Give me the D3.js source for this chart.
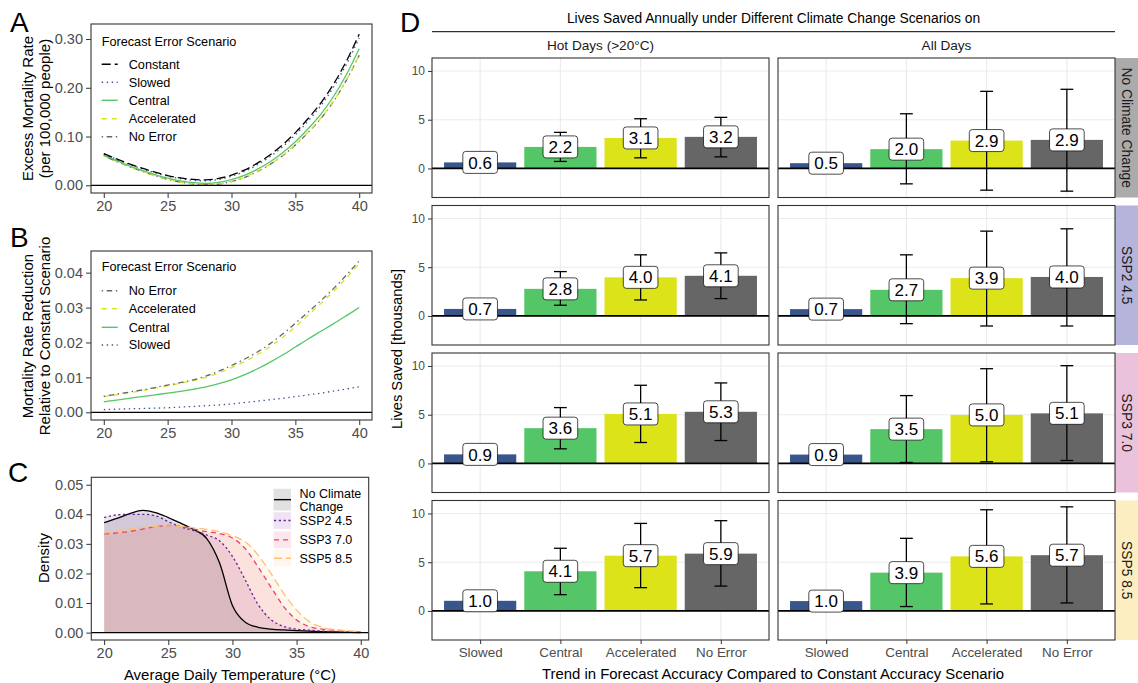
<!DOCTYPE html>
<html lang="en">
<head>
<meta charset="utf-8">
<title>Forecast accuracy and heat mortality</title>
<script src="https://cdn.jsdelivr.net/npm/d3@7"></script>
<style>
  body { margin: 0; background: #fff; }
  svg { display: block; font-family: "Liberation Sans", Arial, Helvetica, sans-serif; }
</style>
</head>
<body>
<script>
var W = 1138, H = 683;

// ---------------- data: panels A and B (by average daily temperature)
var temps = [20, 21, 22, 23, 24, 25, 26, 27, 28, 29, 30, 31, 32, 33, 34, 35, 36, 37, 38, 39, 40];

// excess mortality rate (per 100,000 people)
var rateConstant    = [.0650, .0540, .0440, .0350, .0270, .0200, .0150, .0120, .0110, .0140, .0210, .0310, .0450, .0620, .0830, .1080, .1370, .1690, .2080, .2550, .3100];
var rateSlowed      = [.0642, .0531, .0430, .0339, .0258, .0187, .0135, .0103, .0091, .0119, .0186, .0282, .0418, .0584, .0790, .1035, .1320, .1635, .2019, .2483, .3027];
var rateCentral     = [.0620, .0505, .0400, .0305, .0220, .0145, .0090, .0054, .0037, .0058, .0117, .0203, .0326, .0477, .0666, .0893, .1160, .1458, .1826, .2273, .2800];
var rateAccelerated = [.0605, .0490, .0384, .0288, .0201, .0124, .0067, .0029, .0010, .0027, .0082, .0165, .0285, .0432, .0615, .0835, .1092, .1378, .1733, .2165, .2674];
var rateNoError     = [.0604, .0488, .0382, .0286, .0199, .0122, .0065, .0027, .0006, .0022, .0076, .0158, .0278, .0424, .0606, .0825, .1083, .1370, .1725, .2157, .2666];

// mortality rate reduction relative to constant scenario
var redNoError     = [.0046, .0052, .0058, .0064, .0071, .0078, .0085, .0093, .0104, .0118, .0134, .0152, .0172, .0196, .0224, .0255, .0287, .0320, .0355, .0393, .0434];
var redAccelerated = [.0045, .0050, .0056, .0062, .0069, .0076, .0083, .0091, .0100, .0113, .0128, .0145, .0165, .0188, .0215, .0245, .0278, .0312, .0347, .0385, .0426];
var redCentral     = [.0030, .0035, .0040, .0045, .0050, .0055, .0060, .0066, .0073, .0082, .0093, .0107, .0124, .0143, .0164, .0187, .0210, .0232, .0254, .0277, .0300];
var redSlowed      = [.0008, .0009, .0010, .0011, .0012, .0013, .0015, .0017, .0019, .0021, .0024, .0028, .0032, .0036, .0040, .0045, .0050, .0055, .0061, .0067, .0073];

// ---------------- data: panel C (density of average daily temperature)
var densNoCC = [.0372, .0386, .0402, .0413, .0406, .0389, .0369, .0348, .0318, .0235, .0092, .0035, .0018, .0012, .0009, .0007, .0005, .0003, .0002, .0001, .0000];
var densSSP2 = [.0389, .0398, .0400, .0400, .0395, .0375, .0357, .0345, .0330, .0310, .0258, .0178, .0095, .0044, .0021, .0012, .0008, .0005, .0003, .0002, .0001];
var densSSP3 = [.0334, .0337, .0342, .0350, .0358, .0362, .0359, .0350, .0341, .0335, .0320, .0284, .0222, .0154, .0088, .0043, .0020, .0012, .0008, .0004, .0002];
var densSSP5 = [.0336, .0343, .0350, .0356, .0359, .0361, .0359, .0354, .0349, .0341, .0327, .0307, .0262, .0200, .0132, .0076, .0037, .0018, .0010, .0006, .0003];

// ---------------- data: panel D (lives saved, thousands)
var dCats = ["Slowed", "Central", "Accelerated", "No Error"];
var dRows = ["No Climate Change", "SSP2 4.5", "SSP3 7.0", "SSP5 8.5"];
var dCols = ["Hot Days (>20°C)", "All Days"];

// rows follow dRows, entries follow dCats
var savedHot = [[0.62, 2.21, 3.13, 3.24], [0.72, 2.78, 3.96, 4.12], [0.93, 3.62, 5.08, 5.30], [1.04, 4.07, 5.67, 5.88]];
var savedAll = [[0.54, 1.98, 2.86, 2.93], [0.70, 2.68, 3.88, 4.00], [0.91, 3.52, 4.98, 5.14], [1.01, 3.93, 5.60, 5.72]];
var lowHot  = [[null, 0.72, 1.09, 1.19], [null, 1.10, 1.64, 1.78], [null, 1.50, 2.15, 2.35], [null, 1.67, 2.39, 2.55]];
var highHot = [[null, 3.70, 5.10, 5.24], [null, 4.55, 6.27, 6.47], [null, 5.73, 8.02, 8.26], [null, 6.43, 8.98, 9.26]];
var lowAll  = [[null, -1.58, -2.23, -2.33], [null, -0.79, -1.03, -1.03], [null, 0.10, 0.17, 0.30], [null, 0.45, 0.72, 0.82]];
var highAll = [[null, 5.61, 7.91, 8.12], [null, 6.27, 8.70, 8.94], [null, 6.96, 9.72, 10.03], [null, 7.45, 10.38, 10.68]];

var tempTicks = [20, 25, 30, 35, 40];
var dYTicks = [0, 5, 10];

// ---------------- styles
var scenStyle = {
  "Constant":    { color: "#000000", dash: "9,4" },
  "Slowed":      { color: "#39568C", dash: "1.4,3.6" },
  "Central":     { color: "#55C667", dash: null },
  "Accelerated": { color: "#DCE319", dash: "5,5" },
  "No Error":    { color: "#666666", dash: "1.4,3.6,5.5,3.6" }
};
var climStyle = {
  "No Climate Change": { color: "#000000", fill: "#808080", alpha: 0.24, dash: null },
  "SSP2 4.5":          { color: "#6A1F9A", fill: "#7B2CA0", alpha: 0.13, dash: "2.2,2.6" },
  "SSP3 7.0":          { color: "#E8436A", fill: "#E8436A", alpha: 0.13, dash: "5,4" },
  "SSP5 8.5":          { color: "#FDBF74", fill: "#FDBF74", alpha: 0.13, dash: "8,4" }
};
var barColor = { "Slowed": "#39568C", "Central": "#55C667", "Accelerated": "#DCE319", "No Error": "#666666" };
var stripColor = ["#ABABAB", "#B5B4DB", "#EBC2DC", "#FCEEC0"];

var svg = d3.select("body").append("svg")
  .attr("width", W)
  .attr("height", H);

svg.append("rect").attr("width", W).attr("height", H).attr("fill", "#fff");

function styleAxis(a, size) {
  a.select(".domain").remove();
  a.selectAll(".tick line").attr("stroke", "#333");
  a.selectAll(".tick text").attr("fill", "#4d4d4d").attr("font-size", size).attr("font-family", null);
}

// frame for the A/B/C line panels
function linePanel(left, right, top, bottom, xDom, yDom, yTicks, fmt) {
  var x = d3.scaleLinear().domain(xDom).range([left, right]);
  var y = d3.scaleLinear().domain(yDom).range([bottom, top]);
  var g = svg.append("g");

  var ya = g.append("g")
    .attr("transform", "translate(" + left + ",0)")
    .call(d3.axisLeft(y).tickValues(yTicks).tickFormat(d3.format(fmt)).tickSize(5).tickPadding(3));
  styleAxis(ya, 14.5);

  var xa = g.append("g")
    .attr("transform", "translate(0," + bottom + ")")
    .call(d3.axisBottom(x).tickValues(tempTicks).tickSize(5).tickPadding(3));
  styleAxis(xa, 14.5);

  var plot = g.append("g");

  return { x: x, y: y, g: g, plot: plot, left: left, right: right, top: top, bottom: bottom };
}

function closePanel(p) {
  p.g.append("line")
    .attr("x1", p.left).attr("x2", p.right)
    .attr("y1", p.y(0)).attr("y2", p.y(0))
    .attr("stroke", "#000").attr("stroke-width", 1.3);
  p.g.append("rect")
    .attr("x", p.left).attr("y", p.top)
    .attr("width", p.right - p.left).attr("height", p.bottom - p.top)
    .attr("fill", "none").attr("stroke", "#333").attr("stroke-width", 1.1);
}

function drawSeries(p, vals, st) {
  var line = d3.line()
    .x(function(d, i) { return p.x(temps[i]); })
    .y(function(d) { return p.y(d); })
    .curve(d3.curveMonotoneX);
  p.plot.append("path")
    .datum(vals)
    .attr("d", line)
    .attr("fill", "none")
    .attr("stroke", st.color)
    .attr("stroke-width", 1.3)
    .attr("stroke-dasharray", st.dash);
}

function lineLegend(x, titleY, items, ys) {
  svg.append("text")
    .attr("x", x).attr("y", titleY).attr("dy", "0.35em")
    .attr("font-size", 12.7).attr("fill", "#000")
    .text("Forecast Error Scenario");
  items.forEach(function(name, i) {
    var st = scenStyle[name];
    svg.append("line")
      .attr("x1", x).attr("x2", x + 16)
      .attr("y1", ys[i]).attr("y2", ys[i])
      .attr("stroke", st.color).attr("stroke-width", 1.4)
      .attr("stroke-dasharray", st.dash);
    svg.append("text")
      .attr("x", x + 27).attr("y", ys[i]).attr("dy", "0.35em")
      .attr("font-size", 12.7).attr("fill", "#000")
      .text(name);
  });
}

function yTitle(lines, cx, cy, size) {
  lines.forEach(function(t, i) {
    svg.append("text")
      .attr("transform", "translate(" + (cx[i]) + "," + cy + ") rotate(-90)")
      .attr("text-anchor", "middle").attr("dy", "0.35em")
      .attr("font-size", size).attr("fill", "#000")
      .text(t);
  });
}

function letter(t, x, y) {
  svg.append("text").attr("x", x).attr("y", y)
    .attr("font-size", 28).attr("fill", "#000").text(t);
}

//////////////////////////////////////// PANEL A
var pA = linePanel(91, 372, 24, 193, [19, 41], [-0.0158, 0.3308], [0, 0.1, 0.2, 0.3], ".2f");
drawSeries(pA, rateNoError, scenStyle["No Error"]);
drawSeries(pA, rateAccelerated, scenStyle["Accelerated"]);
drawSeries(pA, rateCentral, scenStyle["Central"]);
drawSeries(pA, rateSlowed, scenStyle["Slowed"]);
drawSeries(pA, rateConstant, scenStyle["Constant"]);
closePanel(pA);
lineLegend(101.7, 41.3, ["Constant", "Slowed", "Central", "Accelerated", "No Error"], [64.3, 82.3, 100.3, 118.7, 136.7]);
yTitle(["Excess Mortality Rate", "(per 100,000 people)"], [28, 45], 108.5, 15);
letter("A", 10, 31.7);

//////////////////////////////////////// PANEL B
var pB = linePanel(91, 372, 251, 420, [19, 41], [-0.0022, 0.0462], [0, 0.01, 0.02, 0.03, 0.04], ".2f");
drawSeries(pB, redSlowed, scenStyle["Slowed"]);
drawSeries(pB, redCentral, scenStyle["Central"]);
drawSeries(pB, redAccelerated, scenStyle["Accelerated"]);
drawSeries(pB, redNoError, scenStyle["No Error"]);
closePanel(pB);
lineLegend(101.7, 266.7, ["No Error", "Accelerated", "Central", "Slowed"], [290.7, 308.7, 327.3, 345]);
yTitle(["Mortality Rate Reduction", "Relative to Constant Scenario"], [28, 44.5], 336, 15);
letter("B", 10, 246.7);

//////////////////////////////////////// PANEL C
var pC = linePanel(91.3, 368.7, 477.3, 640, [19, 40.62], [-0.0025, 0.0525], [0, 0.01, 0.02, 0.03, 0.04, 0.05], ".2f");
var climNames = ["No Climate Change", "SSP2 4.5", "SSP3 7.0", "SSP5 8.5"];
var densSets = [densNoCC, densSSP2, densSSP3, densSSP5];
var area = d3.area()
  .x(function(d, i) { return pC.x(temps[i]); })
  .y0(pC.y(0))
  .y1(function(d) { return pC.y(d); })
  .curve(d3.curveMonotoneX);
densSets.forEach(function(vals, k) {
  var st = climStyle[climNames[k]];
  pC.plot.append("path").datum(vals).attr("d", area)
    .attr("fill", st.fill).attr("fill-opacity", st.alpha).attr("stroke", "none");
});
densSets.forEach(function(vals, k) {
  drawSeries(pC, vals, climStyle[climNames[k]]);
});
closePanel(pC);

// legend of panel C
var cKeys = [[488.3, 511], [511.7, 529.3], [531, 548.7], [549.5, 567]];
climNames.forEach(function(name, k) {
  var st = climStyle[name];
  var y0 = cKeys[k][0], y1 = cKeys[k][1], ym = (y0 + y1) / 2;
  svg.append("rect").attr("x", 273.5).attr("y", y0 + 0.5).attr("width", 17.5).attr("height", y1 - y0 - 1)
    .attr("fill", st.fill).attr("fill-opacity", st.alpha);
  svg.append("line").attr("x1", 274).attr("x2", 291).attr("y1", ym).attr("y2", ym)
    .attr("stroke", st.color).attr("stroke-width", 1.4).attr("stroke-dasharray", st.dash);
  var lab = k === 0 ? ["No Climate", "Change"] : [name];
  lab.forEach(function(t, j) {
    svg.append("text")
      .attr("x", 299.5).attr("y", lab.length === 2 ? [493.3, 507][j] : ym).attr("dy", "0.35em")
      .attr("font-size", 12.5).attr("fill", "#000").text(t);
  });
});
yTitle(["Density"], [43.5], 558, 15);
svg.append("text").attr("x", 230).attr("y", 675).attr("dy", "0.35em")
  .attr("text-anchor", "middle").attr("font-size", 15).attr("fill", "#000")
  .text("Average Daily Temperature (°C)");
letter("C", 8, 481.7);

//////////////////////////////////////// PANEL D
var dLefts = [432, 778], dW = 337;
var dTops = [58, 205.5, 353, 500.5], dH = 139.5;

var allLow = d3.merge(lowHot.concat(lowAll)).filter(function(v) { return v !== null; });
var allHigh = d3.merge(highHot.concat(highAll)).filter(function(v) { return v !== null; });
var dLo = d3.min(allLow), dHi = d3.max(allHigh);
var dPad = (dHi - dLo) * 0.05;
var dY = [dLo - dPad, dHi + dPad];

// shared title with rule
svg.append("text").attr("x", (432 + 1115) / 2).attr("y", 18.3).attr("dy", "0.35em")
  .attr("text-anchor", "middle").attr("font-size", 13.8).attr("fill", "#000")
  .text("Lives Saved Annually under Different Climate Change Scenarios on");
svg.append("line").attr("x1", 432).attr("x2", 1115).attr("y1", 31.7).attr("y2", 31.7)
  .attr("stroke", "#000").attr("stroke-width", 1);

dCols.forEach(function(colName, c) {
  svg.append("text").attr("x", dLefts[c] + dW / 2).attr("y", 45.7).attr("dy", "0.35em")
    .attr("text-anchor", "middle").attr("font-size", 13.6).attr("fill", "#1a1a1a")
    .text(colName);
});

dRows.forEach(function(rowName, r) {
  var top = dTops[r];
  // right strip
  svg.append("rect").attr("x", 1115).attr("y", top).attr("width", 23).attr("height", dH)
    .attr("fill", stripColor[r]);
  svg.append("text")
    .attr("transform", "translate(1126.5," + (top + dH / 2) + ") rotate(90)")
    .attr("text-anchor", "middle").attr("dy", "0.35em")
    .attr("font-size", 13.8).attr("fill", "#1a1a1a")
    .text(rowName);

  dCols.forEach(function(colName, c) {
    var left = dLefts[c];
    var x = d3.scaleLinear().domain([0.4, 4.6]).range([left, left + dW]);
    var y = d3.scaleLinear().domain(dY).range([top + dH, top]);
    var vals = c === 0 ? savedHot[r] : savedAll[r];
    var lows = c === 0 ? lowHot[r] : lowAll[r];
    var highs = c === 0 ? highHot[r] : highAll[r];
    var cell = svg.append("g");

    // grid
    cell.selectAll("line.hg").data(dYTicks).enter().append("line")
      .attr("x1", left).attr("x2", left + dW)
      .attr("y1", function(d) { return y(d); }).attr("y2", function(d) { return y(d); })
      .attr("stroke", "#ebebeb").attr("stroke-width", 1.1);
    cell.selectAll("line.vg").data(dCats).enter().append("line")
      .attr("x1", function(d, i) { return x(i + 1); }).attr("x2", function(d, i) { return x(i + 1); })
      .attr("y1", top).attr("y2", top + dH)
      .attr("stroke", "#ebebeb").attr("stroke-width", 1.1);

    // bars
    cell.selectAll("rect.bar").data(vals).enter().append("rect")
      .attr("x", function(d, i) { return x(i + 1 - 0.45); })
      .attr("width", x(1.45) - x(0.55))
      .attr("y", function(d) { return y(d); })
      .attr("height", function(d) { return y(0) - y(d); })
      .attr("fill", function(d, i) { return barColor[dCats[i]]; });

    // zero line
    cell.append("line").attr("x1", left).attr("x2", left + dW)
      .attr("y1", y(0)).attr("y2", y(0))
      .attr("stroke", "#000").attr("stroke-width", 1.7);

    // error bars
    var cap = x(1.08) - x(0.92);
    vals.forEach(function(v, i) {
      if (lows[i] === null) return;
      var cx = x(i + 1);
      cell.append("line").attr("x1", cx).attr("x2", cx)
        .attr("y1", y(lows[i])).attr("y2", y(highs[i]))
        .attr("stroke", "#000").attr("stroke-width", 1.3);
      [lows[i], highs[i]].forEach(function(e) {
        cell.append("line").attr("x1", cx - cap / 2).attr("x2", cx + cap / 2)
          .attr("y1", y(e)).attr("y2", y(e))
          .attr("stroke", "#000").attr("stroke-width", 1.3);
      });
    });

    // value labels
    vals.forEach(function(v, i) {
      var lg = cell.append("g").attr("transform", "translate(" + x(i + 1) + "," + y(v) + ")");
      var bx = lg.append("rect");
      var tx = lg.append("text").attr("text-anchor", "middle").attr("dy", "0.36em")
        .attr("font-size", 17).attr("fill", "#000").text(v.toFixed(1));
      var tw = tx.node().getComputedTextLength();
      bx.attr("x", -tw / 2 - 5.5).attr("y", -11).attr("width", tw + 11).attr("height", 22)
        .attr("rx", 3).attr("fill", "#fff").attr("stroke", "#000").attr("stroke-width", 0.7);
    });

    // border
    cell.append("rect").attr("x", left).attr("y", top).attr("width", dW).attr("height", dH)
      .attr("fill", "none").attr("stroke", "#333").attr("stroke-width", 1.1);

    // axes: y on left column, x on bottom row
    if (c === 0) {
      var ya = cell.append("g").attr("transform", "translate(" + left + ",0)")
        .call(d3.axisLeft(y).tickValues(dYTicks).tickSize(4).tickPadding(3));
      styleAxis(ya, 12);
    }
    if (r === dRows.length - 1) {
      var xa = cell.append("g").attr("transform", "translate(0," + (top + dH) + ")")
        .call(d3.axisBottom(x).tickValues([1, 2, 3, 4]).tickFormat(function(d) { return dCats[d - 1]; })
          .tickSize(4).tickPadding(3));
      styleAxis(xa, 13.4);
    }
  });
});

yTitle(["Lives Saved [thousands]"], [397], 349, 14.7);
svg.append("text").attr("x", 773).attr("y", 673.3).attr("dy", "0.35em")
  .attr("text-anchor", "middle").attr("font-size", 14.9).attr("fill", "#000")
  .text("Trend in Forecast Accuracy Compared to Constant Accuracy Scenario");
letter("D", 400, 31.7);
</script>
</body>
</html>
